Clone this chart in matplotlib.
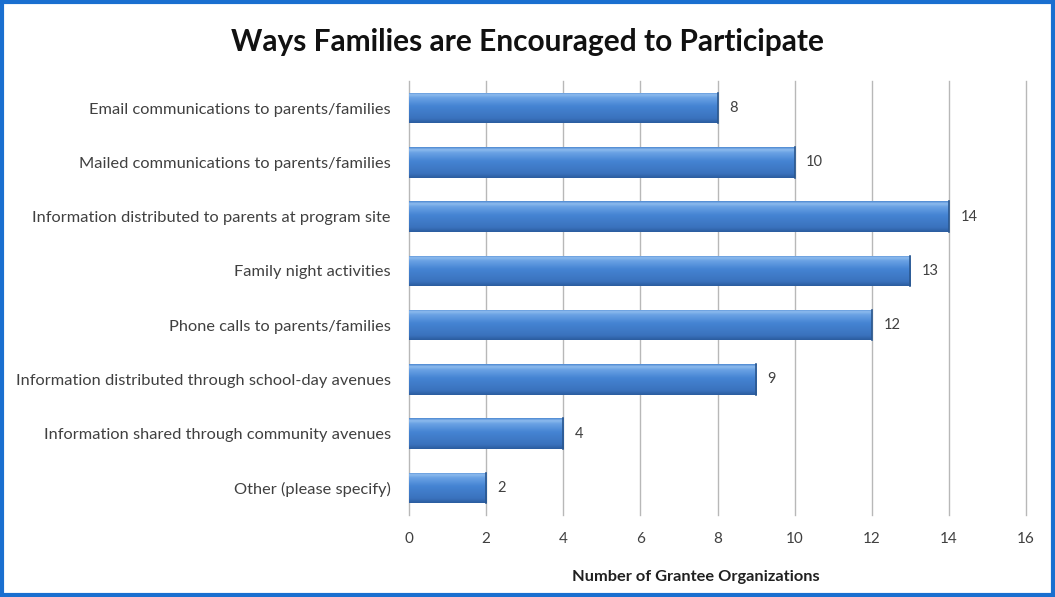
import numpy as np
import matplotlib
matplotlib.use("Agg")
import matplotlib.pyplot as plt
from matplotlib.colors import LinearSegmentedColormap
from matplotlib.patches import Rectangle

plt.rcParams['font.family'] = ['Lato', 'DejaVu Sans']

title = "Ways Families are Encouraged to Participate"
categories = [
    "Email communications to parents/families",
    "Mailed communications to parents/families",
    "Information distributed to parents at program site",
    "Family night activities",
    "Phone calls to parents/families",
    "Information distributed through school-day avenues",
    "Information shared through community avenues",
    "Other (please specify)",
]
counts = [8, 10, 14, 13, 12, 9, 4, 2]
x_ticks = [0, 2, 4, 6, 8, 10, 12, 14, 16]
x_label = "Number of Grantee Organizations"

fig = plt.figure(figsize=(10.55, 5.97), dpi=100)
fig.patch.set_facecolor("white")

# outer blue frame
fig.patches.append(Rectangle((0.0015, 0.003), 0.997, 0.994, transform=fig.transFigure,
                             fill=False, edgecolor="#1a6fd0", linewidth=3.0))

ax = fig.add_axes([409 / 1055, 1 - 515 / 597, (1026 - 409) / 1055, (515 - 81) / 597])
y = np.arange(len(categories))
bars = ax.barh(y, counts, height=0.56, color="#3f7bcc", edgecolor="none", zorder=3)

# cylinder-like vertical shading of each bar
cmap = LinearSegmentedColormap.from_list(
    "bevel", [(0.0, "#2b5c9e"), (0.15, "#3a72bd"), (0.55, "#4584d3"),
              (0.82, "#6aa2e4"), (0.92, "#8dbbee"), (1.0, "#4a86d0")])
grad = np.linspace(0, 1, 256).reshape(-1, 1)
for b in bars:
    x0, y0 = b.get_x(), b.get_y()
    w, h = b.get_width(), b.get_height()
    im = ax.imshow(grad, cmap=cmap, aspect="auto", origin="lower",
                   extent=(x0, x0 + w, y0 + h, y0), zorder=3.5, interpolation="bilinear")
    im.set_clip_path(b)
    ax.plot([x0 + w, x0 + w], [y0, y0 + h], color="#2a578f", lw=1.2, zorder=4)

for yi, v in zip(y, counts):
    ax.text(v + 0.3, yi, str(v), va="center", ha="left", fontsize=10.5, color="#404040")

ax.set_xlim(0, 16)
ax.set_ylim(len(categories) - 0.5, -0.5)
ax.set_xticks(x_ticks)
ax.set_xticklabels([str(t) for t in x_ticks], fontsize=11, color="#404040")
ax.set_yticks(y)
ax.set_yticklabels(categories, fontsize=11.8, color="#404040")
ax.tick_params(axis="both", length=0, pad=12)
ax.tick_params(axis="y", pad=13)
for s in ax.spines.values():
    s.set_visible(False)
for t in x_ticks:
    ax.axvline(t, color="#b8b8b8", lw=1.0, zorder=1, clip_on=False)

ax.set_xlabel(x_label, fontsize=11.8, fontweight="bold", color="#202020")
ax.xaxis.set_label_coords((696 - 409) / (1026 - 409), -(577 - 515) / (515 - 81))
ax.xaxis.label.set_va("center")
fig.text(0.5, 1 - 42 / 597, title, ha="center", va="center",
         fontsize=21.5, fontweight="bold", color="#111111")

fig.savefig("out.png", dpi=100, facecolor="white")
